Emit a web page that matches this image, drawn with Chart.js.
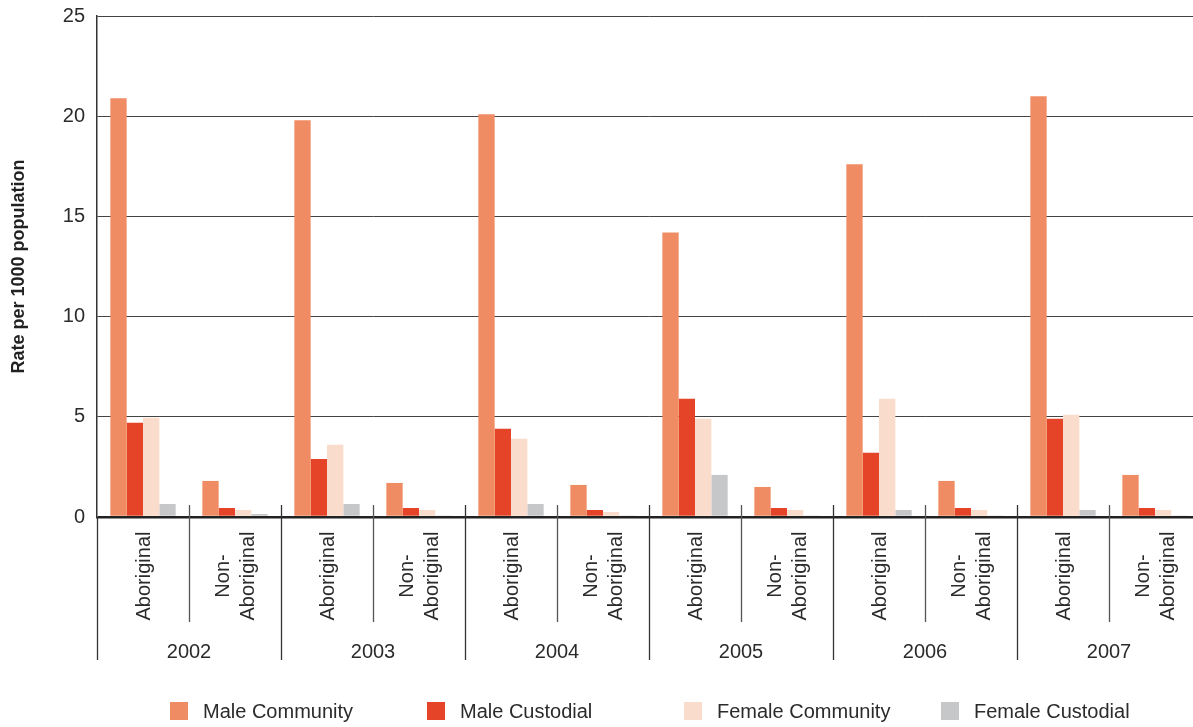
<!DOCTYPE html>
<html>
<head>
<meta charset="utf-8">
<script src="https://cdn.jsdelivr.net/npm/chart.js@4/dist/chart.umd.min.js"></script>
<style>
  html, body { margin: 0; padding: 0; background: #fff; overflow: hidden; }
  #wrap { width: 1201px; height: 727px; position: relative; }
</style>
</head>
<body>
<div id="wrap"><canvas id="myChart"></canvas></div>
<script>
// chart data
const years = ['2002', '2003', '2004', '2005', '2006', '2007'];
const groupLabels = [['Aboriginal'], ['Non-', 'Aboriginal']];
const seriesNames = ['Male Community', 'Male Custodial', 'Female Community', 'Female Custodial'];
const seriesColors = ['#f08c64', '#e64428', '#fadccc', '#c6c7c9'];
// values in order: 2002 Abor, 2002 Non, 2003 Abor, 2003 Non ...
const maleCommunity   = [20.9, 1.8, 19.8, 1.7, 20.1, 1.6, 14.2, 1.5, 17.6, 1.8, 21.0, 2.1];
const maleCustodial   = [4.7, 0.45, 2.9, 0.45, 4.4, 0.35, 5.9, 0.45, 3.2, 0.45, 4.9, 0.45];
const femaleCommunity = [4.95, 0.35, 3.6, 0.35, 3.9, 0.25, 4.9, 0.35, 5.9, 0.35, 5.1, 0.35];
const femaleCustodial = [0.65, 0.15, 0.65, 0.05, 0.65, 0.05, 2.1, 0.05, 0.35, 0.05, 0.35, 0.05];
const yTicks = [0, 5, 10, 15, 20, 25];

const FONT = '"Liberation Sans", Arial, sans-serif';
const TEXT = '#2b2b2b';

const labels = [];
years.forEach(function (y) {
  groupLabels.forEach(function (g) { labels.push(y + ' ' + g.join(' ')); });
});

const seriesData = [maleCommunity, maleCustodial, femaleCommunity, femaleCustodial];
const datasets = seriesNames.map(function (name, i) {
  return {
    label: name,
    data: seriesData[i],
    backgroundColor: seriesColors[i],
    borderWidth: 0,
    categoryPercentage: 0.71,
    barPercentage: 1.0
  };
});

// draws the two-level category axis and the legend
const axisPlugin = {
  id: 'axisPlugin',
  afterDraw: function (chart) {
    const ctx = chart.ctx;
    const xs = chart.scales.x;
    const ys = chart.scales.y;
    const base = ys.getPixelForValue(0);
    const n = labels.length;
    const step = (xs.right - xs.left) / n;
    const groupBottom = base + 105;
    const yearBottom = base + 143;

    ctx.save();
    ctx.strokeStyle = '#333';
    ctx.lineWidth = 1.3;
    for (let i = 0; i <= n; i++) {
      const x = Math.round(xs.left + i * step) + 0.5;
      if (i === 0) {
        ctx.beginPath(); ctx.moveTo(x, base); ctx.lineTo(x, yearBottom); ctx.stroke();
      } else if (i < n) {
        ctx.strokeStyle = i % 2 === 0 ? '#333' : '#555';
        ctx.beginPath();
        ctx.moveTo(x, base - 12);
        ctx.lineTo(x, i % 2 === 0 ? yearBottom : groupBottom);
        ctx.stroke();
      }
    }

    // group labels, rotated
    ctx.fillStyle = TEXT;
    ctx.font = '20px ' + FONT;
    ctx.textAlign = 'center';
    ctx.textBaseline = 'middle';
    for (let i = 0; i < n; i++) {
      const cx = xs.getPixelForValue(i);
      const lines = groupLabels[i % 2];
      ctx.save();
      ctx.translate(cx + 1, base + 59);
      ctx.rotate(-Math.PI / 2);
      lines.forEach(function (t, k) {
        ctx.fillText(t, 0, (k - (lines.length - 1) / 2) * 25);
      });
      ctx.restore();
    }

    // year labels
    ctx.textBaseline = 'alphabetic';
    years.forEach(function (y, j) {
      const cx = xs.left + (j * 2 + 1) * step;
      ctx.fillText(y, cx, yearBottom - 2);
    });

    // legend
    ctx.textAlign = 'left';
    ctx.textBaseline = 'middle';
    const legY = 711;
    seriesNames.forEach(function (name, i) {
      const lx = 170 + i * 257;
      ctx.fillStyle = seriesColors[i];
      ctx.fillRect(lx, legY - 9, 18, 18);
      ctx.fillStyle = TEXT;
      ctx.fillText(name, lx + 33, legY + 1);
    });
    ctx.restore();
  }
};

let ctx = document.getElementById('myChart').getContext('2d');
let barChart = new Chart(ctx, {
  type: 'bar',
  data: {
    labels: labels,
    datasets: datasets
  },
  plugins: [axisPlugin],
  options: {
    responsive: true,
    maintainAspectRatio: false,
    animation: false,
    layout: {
      padding: { top: 16, right: 0, bottom: 67, left: 0 }
    },
    plugins: {
      legend: { display: false },
      tooltip: { enabled: false },
      title: { display: false }
    },
    scales: {
      x: {
        offset: true,
        grid: { display: false },
        border: { display: false },
        ticks: { display: false },
        afterFit: function (scale) { scale.height = 143; }
      },
      y: {
        min: 0,
        max: 25,
        afterBuildTicks: function (scale) {
          scale.ticks = yTicks.map(function (v) { return { value: v }; });
        },
        afterFit: function (scale) {
          scale.width = 97;
          scale.paddingTop = 0;
          scale.paddingBottom = 0;
        },
        border: { display: true, color: '#333', width: 1.5 },
        grid: {
          drawTicks: false,
          color: function (c) { return c.tick && c.tick.value === 0 ? '#222' : '#444'; },
          lineWidth: function (c) { return c.tick && c.tick.value === 0 ? 2.5 : 1; }
        },
        ticks: {
          padding: 12,
          color: TEXT,
          font: { family: FONT, size: 20 }
        },
        title: {
          display: true,
          text: 'Rate per 1000 population',
          color: '#222',
          font: { family: FONT, size: 18, weight: 'bold' },
          padding: { top: 8, bottom: 0 }
        }
      }
    }
  }
});
</script>
</body>
</html>
